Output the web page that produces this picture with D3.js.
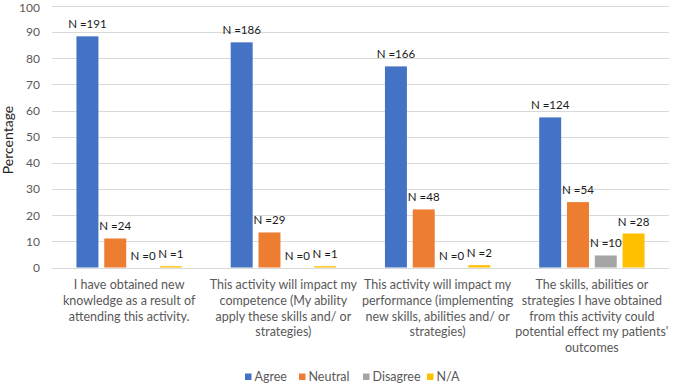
<!DOCTYPE html>
<html>
<head>
<meta charset="utf-8">
<script src="https://cdn.jsdelivr.net/npm/d3@7"></script>
<style>
  body { margin: 0; background: #fff; }
  svg { display: block; font-family: Lato, "Open Sans", sans-serif; }
</style>
</head>
<body>
<svg id="chart" width="673" height="384"></svg>
<script>
// Données
const categories = [
    ["I have obtained new", "knowledge as a result of", "attending this activity."],
    ["This activity will impact my", "competence (My ability", "apply these skills and/ or", "strategies)"],
    ["This activity will impact my", "performance (implementing", "new skills, abilities and/ or", "strategies)"],
    ["The skills, abilities or", "strategies I have obtained", "from this activity could", "potential effect my patients'", "outcomes"]
];
const seriesNames = ["Agree", "Neutral", "Disagree", "N/A"];
const seriesColors = ["#4472C4", "#ED7D31", "#A5A5A5", "#FFC000"];

// pourcentages par série (une valeur par catégorie)
const agreePct = [88.4, 86.1, 76.9, 57.4];
const neutralPct = [11.1, 13.4, 22.2, 25.0];
const disagreePct = [0, 0, 0, 4.6];
const naPct = [0.5, 0.5, 0.9, 13.0];

// effectifs affichés au-dessus des barres
const agreeN = [191, 186, 166, 124];
const neutralN = [24, 29, 48, 54];
const disagreeN = [0, 0, 0, 10];
const naN = [1, 1, 2, 28];

const yTicks = [0, 10, 20, 30, 40, 50, 60, 70, 80, 90, 100];

const pctBySeries = [agreePct, neutralPct, disagreePct, naPct];
const nBySeries = [agreeN, neutralN, disagreeN, naN];

const svg = d3.select("#chart");
const plotLeft = 52, plotRight = 669, plotTop = 6, plotBottom = 267.5;
const groupIds = categories.map((c, i) => i);

const x0 = d3.scaleBand()
    .domain(groupIds)
    .range([plotLeft, plotRight])
    .paddingInner(0.317)
    .paddingOuter(0.1585);

const x1 = d3.scaleBand()
    .domain(seriesNames)
    .range([0, x0.bandwidth()])
    .paddingInner(0.21);

const y = d3.scaleLinear()
    .domain([0, 100])
    .range([plotBottom, plotTop]);

// Grille horizontale
svg.append("g")
    .selectAll("line")
    .data(yTicks)
    .enter()
    .append("line")
    .attr("x1", plotLeft)
    .attr("x2", plotRight)
    .attr("y1", d => Math.round(y(d)) + 0.5)
    .attr("y2", d => Math.round(y(d)) + 0.5)
    .attr("stroke", "#d9d9d9")
    .attr("stroke-width", 1);

// Axe Y
const yAxis = svg.append("g")
    .attr("transform", `translate(${plotLeft - 12},0)`)
    .call(d3.axisLeft(y).tickValues(yTicks).tickSize(0).tickPadding(0));
yAxis.select(".domain").remove();
yAxis.selectAll("text")
    .attr("fill", "#595959")
    .attr("font-size", "12px")
    .attr("font-family", "Lato, sans-serif");
// le "100" touche le bord haut : on le descend un peu
yAxis.selectAll("text").filter(d => d === 100).attr("y", 2);

// Titre de l'axe Y
svg.append("text")
    .attr("transform", "translate(8,140) rotate(-90)")
    .attr("text-anchor", "middle")
    .attr("dy", "0.35em")
    .attr("fill", "#262626")
    .attr("font-size", "14px")
    .text("Percentage");

// Barres
const rows = [];
groupIds.forEach(g => {
    seriesNames.forEach((s, si) => {
        rows.push({ g: g, s: s, si: si, v: pctBySeries[si][g], n: nBySeries[si][g] });
    });
});

svg.append("g")
    .selectAll("rect")
    .data(rows)
    .enter()
    .append("rect")
    .attr("x", d => x0(d.g) + x1(d.s))
    .attr("y", d => y(d.v))
    .attr("width", x1.bandwidth())
    .attr("height", d => y(0) - y(d.v))
    .attr("fill", d => seriesColors[d.si]);

// Labels N =
svg.append("g")
    .selectAll("text")
    .data(rows)
    .enter()
    .append("text")
    .attr("x", d => x0(d.g) + x1(d.s) + x1.bandwidth() / 2)
    .attr("y", d => y(d.v) - 8)
    .attr("text-anchor", "middle")
    .attr("fill", "#1a1a1a")
    .attr("font-size", "11.5px")
    .text(d => `N =${d.n}`);

// Axe X (libellés sur plusieurs lignes)
const xAxis = svg.append("g")
    .attr("transform", `translate(0,${plotBottom})`)
    .call(d3.axisBottom(x0).tickSize(0).tickFormat(""));
xAxis.select(".domain").remove();
xAxis.selectAll(".tick").each(function (g) {
    const t = d3.select(this).append("text")
        .attr("fill", "#595959")
        .attr("font-size", "12.5px")
        .attr("font-family", "Lato, sans-serif")
        .attr("text-anchor", "middle");
    categories[g].forEach((line, i) => {
        t.append("tspan")
            .attr("x", 0)
            .attr("y", 21.5 + i * 15.8)
            .text(line);
    });
});

// Légende
const legend = svg.append("g").attr("transform", "translate(0,377)");
const legendX = [245, 299, 363, 427];
seriesNames.forEach((s, i) => {
    legend.append("rect")
        .attr("x", legendX[i])
        .attr("y", -3.5)
        .attr("width", 6.5)
        .attr("height", 6.5)
        .attr("fill", seriesColors[i]);
    legend.append("text")
        .attr("x", legendX[i] + 9.5)
        .attr("y", 0)
        .attr("dy", "0.35em")
        .attr("fill", "#595959")
        .attr("font-size", "12.5px")
        .text(s);
});
</script>
</body>
</html>
